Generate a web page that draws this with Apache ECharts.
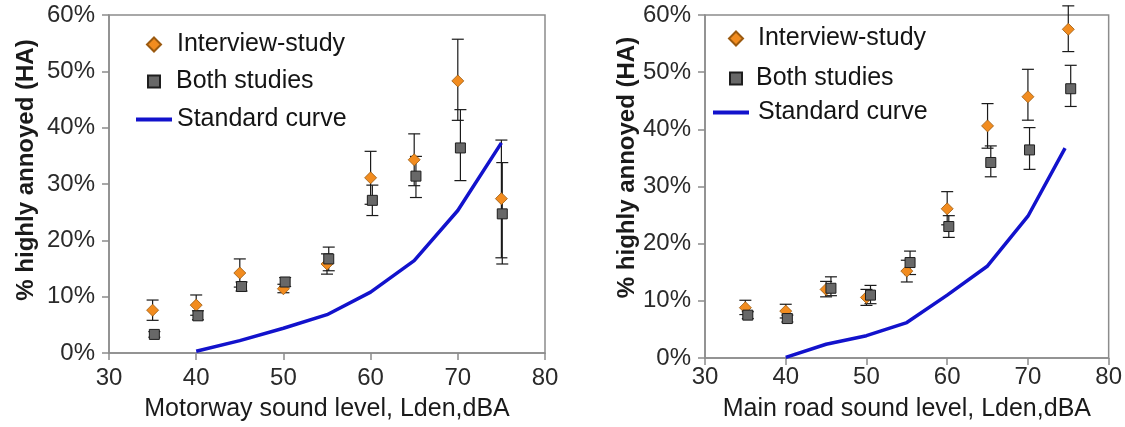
<!DOCTYPE html>
<html lang="en">
<head>
    <meta charset="UTF-8">
    <title>Highly annoyed vs sound level</title>
    <script src="https://cdn.jsdelivr.net/npm/echarts@6.0.0/dist/echarts.min.js"></script>
    <style>
        html, body { margin: 0; padding: 0; background: #fff; }
        #chart { width: 1125px; height: 427px; }
    </style>
</head>
<body>
    <div id="chart"></div>

    <script>
        // ---- data (% highly annoyed) ----
        // Motorway (left panel)
        const mwInterviewX = [35, 40, 45, 50, 55, 60, 65, 70, 75];
        const mwInterviewY = [7.6, 8.5, 14.2, 11.4, 15.8, 31.1, 34.3, 48.3, 27.4];
        const mwInterviewLow = [5.8, 6.7, 11.7, 10.7, 14.0, 26.4, 29.7, 41.3, 16.9];
        const mwInterviewHigh = [9.4, 10.3, 16.7, 12.2, 17.6, 35.8, 38.9, 55.7, 37.8];

        const mwBothX = [35.2, 40.2, 45.2, 50.2, 55.2, 60.2, 65.2, 70.3, 75.1];
        const mwBothY = [3.3, 6.6, 11.8, 12.6, 16.7, 27.1, 31.4, 36.4, 24.7];
        const mwBothLow = [2.8, 5.9, 11.0, 11.8, 14.6, 24.4, 27.6, 30.6, 15.8];
        const mwBothHigh = [3.8, 7.5, 12.6, 13.4, 18.8, 29.8, 34.9, 43.2, 33.8];

        const mwStdX = [40, 45, 50, 55, 60, 65, 70, 75];
        const mwStdY = [0.3, 2.2, 4.4, 6.8, 10.8, 16.4, 25.3, 37.3];

        // Main road (right panel)
        const mrInterviewX = [35, 40, 45, 50, 55, 60, 65, 70, 75];
        const mrInterviewY = [8.8, 8.2, 12.0, 10.6, 15.2, 26.1, 40.6, 45.7, 57.5];
        const mrInterviewLow = [7.6, 7.0, 10.7, 9.2, 13.3, 23.3, 36.7, 41.6, 53.6];
        const mrInterviewHigh = [10.1, 9.4, 13.4, 12.0, 17.1, 29.1, 44.5, 50.5, 61.6];

        const mrBothX = [35.3, 40.2, 45.6, 50.5, 55.4, 60.2, 65.4, 70.2, 75.3];
        const mrBothY = [7.5, 6.9, 12.2, 11.0, 16.7, 23.0, 34.2, 36.4, 47.1];
        const mrBothLow = [6.9, 6.3, 10.9, 9.5, 14.6, 21.1, 31.7, 33.0, 44.0];
        const mrBothHigh = [8.1, 7.5, 14.2, 12.7, 18.7, 24.9, 37.1, 40.3, 51.2];

        const mrStdX = [40, 45, 50, 55, 60, 65, 70, 74.6];
        const mrStdY = [0.1, 2.4, 3.9, 6.2, 11.0, 16.1, 24.8, 36.7];

        const xTicks = { min: 30, max: 80, interval: 10 };
        const yTicks = { min: 0, max: 60, interval: 10 };

        const FONT = 'Liberation Sans';
        const ORANGE = '#f28c1f';
        const ORANGE_EDGE = '#9b5a10';
        const GREY = '#686868';
        const GREY_EDGE = '#1e1e1e';
        const BLUE = '#1212cc';
        const AXIS_GREY = '#8c8c8c';

        const zip = (xs, ys) => xs.map((x, i) => [x, ys[i]]);

        function errorBars(xs, lows, highs, idx) {
            return {
                type: 'custom',
                xAxisIndex: idx,
                yAxisIndex: idx,
                clip: false,
                z: 1,
                silent: true,
                encode: { x: 0, y: [1, 2] },
                data: xs.map((x, i) => [x, lows[i], highs[i]]),
                renderItem: function (params, api) {
                    const lo = api.coord([api.value(0), api.value(1)]);
                    const hi = api.coord([api.value(0), api.value(2)]);
                    const w = 6;
                    const st = { stroke: '#1a1a1a', lineWidth: 1.2 };
                    return {
                        type: 'group',
                        children: [
                            { type: 'line', shape: { x1: hi[0], y1: hi[1], x2: lo[0], y2: lo[1] }, style: st },
                            { type: 'line', shape: { x1: hi[0] - w, y1: hi[1], x2: hi[0] + w, y2: hi[1] }, style: st },
                            { type: 'line', shape: { x1: lo[0] - w, y1: lo[1], x2: lo[0] + w, y2: lo[1] }, style: st }
                        ]
                    };
                }
            };
        }

        function panelSeries(idx, iX, iY, iLo, iHi, bX, bY, bLo, bHi, sX, sY) {
            return [
                errorBars(iX, iLo, iHi, idx),
                errorBars(bX, bLo, bHi, idx),
                {
                    name: 'Interview-study',
                    type: 'scatter',
                    xAxisIndex: idx, yAxisIndex: idx,
                    symbol: 'diamond',
                    symbolSize: 12,
                    z: 3,
                    itemStyle: { color: ORANGE, borderColor: ORANGE_EDGE, borderWidth: 0.8, opacity: 1 },
                    data: zip(iX, iY)
                },
                {
                    name: 'Both studies',
                    type: 'scatter',
                    xAxisIndex: idx, yAxisIndex: idx,
                    symbol: 'rect',
                    symbolSize: 10,
                    z: 4,
                    itemStyle: { color: GREY, borderColor: GREY_EDGE, borderWidth: 1, opacity: 1 },
                    data: zip(bX, bY)
                },
                {
                    name: 'Standard curve',
                    type: 'line',
                    xAxisIndex: idx, yAxisIndex: idx,
                    symbol: 'none',
                    z: 2,
                    lineStyle: { color: BLUE, width: 3.5 },
                    itemStyle: { color: BLUE },
                    data: zip(sX, sY)
                }
            ];
        }

        function xAxis(idx, name, labelMargin, nameGap) {
            return {
                type: 'value',
                gridIndex: idx,
                min: xTicks.min, max: xTicks.max, interval: xTicks.interval,
                name: name,
                nameLocation: 'middle',
                nameGap: nameGap,
                nameTextStyle: { fontFamily: FONT, fontSize: 25, color: '#1a1a1a' },
                axisLine: { show: true, lineStyle: { color: AXIS_GREY, width: 1.5 } },
                axisTick: { show: true, length: 7, lineStyle: { color: AXIS_GREY, width: 1.5 } },
                axisLabel: { fontFamily: FONT, fontSize: 24, color: '#2a2a2a', margin: labelMargin },
                splitLine: { show: false }
            };
        }

        function yAxis(idx, nameGap, shift) {
            return {
                type: 'value',
                gridIndex: idx,
                min: yTicks.min, max: yTicks.max, interval: yTicks.interval,
                name: '% highly annoyed (HA)',
                nameLocation: 'middle',
                nameGap: nameGap,
                nameTextStyle: {
                    fontFamily: FONT, fontSize: 24, fontWeight: 'bold', color: '#1a1a1a',
                    padding: [0, 0, 0, shift]
                },
                axisLine: { show: true, lineStyle: { color: AXIS_GREY, width: 1.5 } },
                axisTick: { show: true, length: 7, lineStyle: { color: AXIS_GREY, width: 1.5 } },
                axisLabel: { fontFamily: FONT, fontSize: 24, color: '#2a2a2a', margin: 14, formatter: '{value}%' },
                splitLine: { show: false }
            };
        }

        function legendItem(name, left, top, w, h, pad, icon) {
            return {
                data: [name],
                left: left,
                top: top,
                padding: 0,
                itemWidth: w,
                itemHeight: h,
                icon: icon,
                selectedMode: false,
                textStyle: { fontFamily: FONT, fontSize: 25, color: '#141414', padding: [0, 0, 0, pad] }
            };
        }

        const chart = echarts.init(document.getElementById('chart'), null, { renderer: 'canvas' });

        chart.setOption({
            animation: false,
            backgroundColor: '#fff',
            grid: [
                { left: 109, top: 15, width: 436, height: 338, show: true, borderColor: AXIS_GREY, borderWidth: 1.5, backgroundColor: 'transparent' },
                { left: 705, top: 15, width: 404, height: 343, show: true, borderColor: AXIS_GREY, borderWidth: 1.5, backgroundColor: 'transparent' }
            ],
            xAxis: [
                xAxis(0, 'Motorway sound level, Lden,dBA', 13, 44),
                xAxis(1, 'Main road sound level, Lden,dBA', 7, 39)
            ],
            yAxis: [
                yAxis(0, 71, 28),
                yAxis(1, 65, 38)
            ],
            legend: [
                legendItem('Interview-study', 146, 32, 14, 14, 11, 'diamond'),
                legendItem('Both studies', 147, 69, 12, 12, 11, 'rect'),
                legendItem('Standard curve', 136, 107, 36, 4, 0, 'rect'),
                legendItem('Interview-study', 728, 26, 14, 14, 10, 'diamond'),
                legendItem('Both studies', 729, 66, 12, 12, 9, 'rect'),
                legendItem('Standard curve', 713, 100, 36, 4, 4, 'rect')
            ],
            series: [].concat(
                panelSeries(0, mwInterviewX, mwInterviewY, mwInterviewLow, mwInterviewHigh,
                    mwBothX, mwBothY, mwBothLow, mwBothHigh, mwStdX, mwStdY),
                panelSeries(1, mrInterviewX, mrInterviewY, mrInterviewLow, mrInterviewHigh,
                    mrBothX, mrBothY, mrBothLow, mrBothHigh, mrStdX, mrStdY)
            )
        });
    </script>
</body>
</html>
